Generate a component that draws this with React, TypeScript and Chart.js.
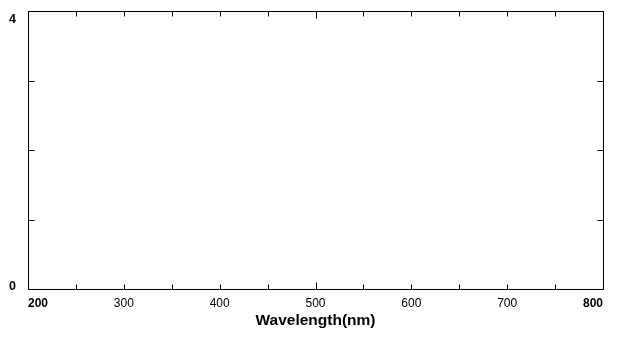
import React, { useEffect, useRef } from "react";
import { Chart, registerables } from "chart.js";

Chart.register(...registerables);

// Axis ranges and tick values
const xMin = 200;
const xMax = 800;
const xStep = 50;
const xLabelled = [200, 300, 400, 500, 600, 700, 800];
const xBold = [200, 800];
const xLongTicks = [500];

const yMin = 0;
const yMax = 4;
const yStep = 1;
const yLabelled = [0, 4];

// The chart holds no data series
const seriesX: number[] = [];
const seriesY: number[] = [];

const xTitle = "Wavelength(nm)";

const FONT = "'Liberation Sans', Arial, sans-serif";

const frameTicks = {
  id: "frameTicks",
  afterDraw(chart: any) {
    const { ctx, chartArea, scales } = chart;
    const { left, right, top, bottom } = chartArea;
    const xs = scales.x;
    const ys = scales.y;
    const L = Math.round(left) + 0.5;
    const R = Math.round(right) + 0.5;
    const T = Math.round(top) + 0.5;
    const B = Math.round(bottom) + 0.5;
    ctx.save();
    ctx.strokeStyle = "#000";
    ctx.lineWidth = 1;
    ctx.beginPath();
    ctx.rect(L, T, R - L, B - T);
    ctx.stroke();
    ctx.beginPath();
    xs.ticks.forEach((t: any) => {
      const px = Math.round(xs.getPixelForValue(t.value)) + 0.5;
      const len = xLongTicks.includes(t.value) ? 7 : 5;
      ctx.moveTo(px, T);
      ctx.lineTo(px, T + len);
      ctx.moveTo(px, B);
      ctx.lineTo(px, B - len);
    });
    ys.ticks.forEach((t: any) => {
      const py = Math.round(ys.getPixelForValue(t.value)) + 0.5;
      ctx.moveTo(L, py);
      ctx.lineTo(L + 6, py);
      ctx.moveTo(R, py);
      ctx.lineTo(R - 6, py);
    });
    ctx.stroke();
    ctx.restore();
  },
};

export default function App() {
  const ref = useRef<HTMLCanvasElement | null>(null);

  useEffect(() => {
    if (!ref.current) return;
    const chart = new Chart(ref.current, {
      type: "line",
      data: {
        datasets: [
          {
            data: seriesX.map((x, i) => ({ x, y: seriesY[i] })),
            borderColor: "#000",
            pointRadius: 0,
          },
        ],
      },
      options: {
        responsive: false,
        animation: false,
        layout: { padding: { left: 0, top: 11, right: 16, bottom: 0 } },
        plugins: { legend: { display: false }, tooltip: { enabled: false } },
        scales: {
          x: {
            type: "linear",
            position: "bottom",
            min: xMin,
            max: xMax,
            grid: { display: false, drawTicks: false },
            border: { display: false },
            ticks: {
              stepSize: xStep,
              autoSkip: false,
              maxRotation: 0,
              align: "inner",
              padding: 7,
              color: "#000",
              callback: (v: any) => (xLabelled.includes(Number(v)) ? String(v) : ""),
              font: (c: any) => ({
                family: FONT,
                size: 12,
                weight: c.tick && xBold.includes(c.tick.value) ? "bold" : "normal",
              }),
            },
            title: {
              display: true,
              text: xTitle,
              color: "#000",
              font: { family: FONT, size: 15.5, weight: "bold" },
              padding: { top: 0, bottom: 8 },
            },
            afterFit: (s: any) => {
              s.height = 49;
              s.paddingLeft = 0;
              s.paddingRight = 0;
            },
          },
          y: {
            type: "linear",
            position: "left",
            min: yMin,
            max: yMax,
            grid: { display: false, drawTicks: false },
            border: { display: false },
            ticks: {
              stepSize: yStep,
              autoSkip: false,
              padding: 12,
              color: "#000",
              callback: (v: any) => {
                const n = Number(v);
                if (!yLabelled.includes(n)) return "";
                if (n === yMax) return ["", String(n)];
                return [String(n), ""];
              },
              font: (c: any) => ({
                family: FONT,
                size: 12.5,
                weight: "bold",
                lineHeight: c.tick && c.tick.value === yMin ? "4px" : "18px",
              }),
            },
            afterFit: (s: any) => {
              s.width = 28;
              s.paddingTop = 0;
              s.paddingBottom = 0;
            },
          },
        },
      },
      plugins: [frameTicks],
    } as any);
    return () => chart.destroy();
  }, []);

  return (
    <div style={{ position: "absolute", left: 0, top: 0, width: 619, height: 338, background: "#fff" }}>
      <canvas ref={ref} width={619} height={338} />
    </div>
  );
}
